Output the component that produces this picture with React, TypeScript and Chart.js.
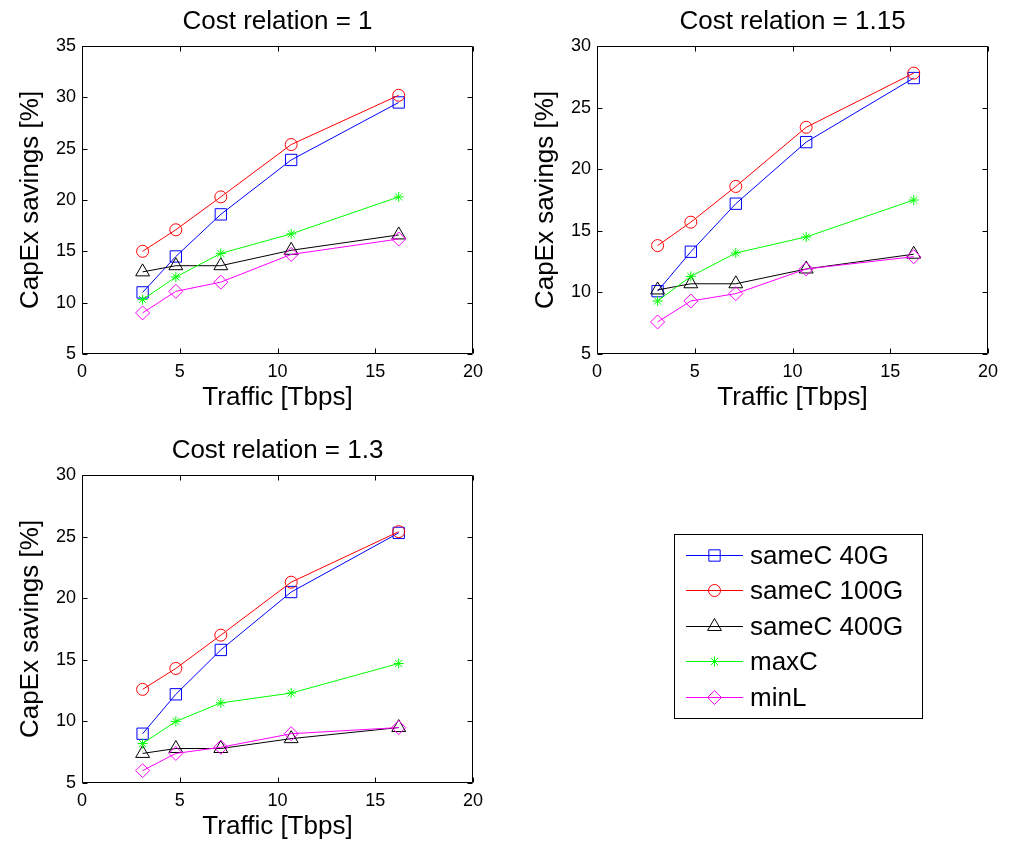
import React, { useEffect, useRef } from "react";
import { Chart, registerables } from "chart.js";
import { drawPoint } from "chart.js/helpers";

Chart.register(...registerables);

// ---------- data ----------
const trafficTbps = [3.1, 4.8, 7.1, 10.7, 16.2];
const seriesLabels = ["sameC 40G", "sameC 100G", "sameC 400G", "maxC", "minL"];
const panelTitles = ["Cost relation = 1", "Cost relation = 1.15", "Cost relation = 1.3"];
const xTickStep = 5;
const yTickStep = 5;

// Cost relation = 1
const sameC40G_1 = [11.0, 14.5, 18.6, 23.9, 29.5];
const sameC100G_1 = [15.0, 17.1, 20.3, 25.4, 30.2];
const sameC400G_1 = [13.0, 13.6, 13.6, 15.1, 16.6];
const maxC_1 = [10.3, 12.5, 14.8, 16.7, 20.3];
const minL_1 = [9.0, 11.1, 12.0, 14.7, 16.2];

// Cost relation = 1.15
const sameC40G_2 = [10.1, 13.3, 17.2, 22.2, 27.4];
const sameC100G_2 = [13.8, 15.7, 18.6, 23.4, 27.8];
const sameC400G_2 = [10.2, 10.7, 10.7, 11.9, 13.1];
const maxC_2 = [9.3, 11.3, 13.2, 14.5, 17.5];
const minL_2 = [7.6, 9.3, 9.9, 11.9, 12.9];

// Cost relation = 1.3
const sameC40G_3 = [9.0, 12.2, 15.8, 20.5, 25.3];
const sameC100G_3 = [12.6, 14.3, 17.0, 21.3, 25.4];
const sameC400G_3 = [7.4, 7.8, 7.8, 8.6, 9.5];
const maxC_3 = [8.2, 10.0, 11.5, 12.3, 14.7];
const minL_3 = [6.0, 7.4, 7.9, 9.0, 9.5];

const panelSeries = [
  [sameC40G_1, sameC100G_1, sameC400G_1, maxC_1, minL_1],
  [sameC40G_2, sameC100G_2, sameC400G_2, maxC_2, minL_2],
  [sameC40G_3, sameC100G_3, sameC400G_3, maxC_3, minL_3],
];
const panelXRange = [0, 20];
const panelYRanges = [
  [5, 35],
  [5, 30],
  [5, 30],
];

// ---------- styles ----------
const FONT = '"Liberation Sans", Arial, Helvetica, sans-serif';
const seriesColors = ["#0000FF", "#FF0000", "#000000", "#00FF00", "#FF00FF"];
const seriesMarkers = ["rect", "circle", "triangle", "star", "rectRot"];
const seriesMarkerRadius = [8, 6, 8, 5, 7];

const CW = 500;
const CH = 420;
const panelPos = [
  { left: 0, top: 0 },
  { left: 515, top: 0 },
  { left: 0, top: 429 },
];

const framePlugin = {
  id: "matlabFrame",
  afterDraw(chart: any) {
    const { ctx, chartArea: a, scales } = chart;
    const L = Math.round(a.left) + 0.5;
    const R = Math.round(a.right) - 0.5;
    const T = Math.round(a.top) + 0.5;
    const B = Math.round(a.bottom) - 0.5;
    const tl = 5;
    ctx.save();
    ctx.strokeStyle = "#000";
    ctx.lineWidth = 1;
    ctx.beginPath();
    ctx.rect(L, T, R - L, B - T);
    const xs = scales.x;
    xs.ticks.forEach((_t: any, i: number) => {
      const px = Math.round(xs.getPixelForTick(i)) + 0.5;
      ctx.moveTo(px, B);
      ctx.lineTo(px, B - tl);
      ctx.moveTo(px, T);
      ctx.lineTo(px, T + tl);
    });
    const ys = scales.y;
    ys.ticks.forEach((_t: any, i: number) => {
      const py = Math.round(ys.getPixelForTick(i)) + 0.5;
      ctx.moveTo(L, py);
      ctx.lineTo(L + tl, py);
      ctx.moveTo(R, py);
      ctx.lineTo(R - tl, py);
    });
    ctx.stroke();
    ctx.restore();
  },
};

function makeDatasets(values: number[][]) {
  return values.map((vals, i) => ({
    label: seriesLabels[i],
    data: vals.map((v, j) => ({ x: trafficTbps[j], y: v })),
    borderColor: seriesColors[i],
    backgroundColor: seriesColors[i],
    borderWidth: 1,
    pointStyle: seriesMarkers[i],
    pointRadius: seriesMarkerRadius[i],
    pointBorderColor: seriesColors[i],
    pointBackgroundColor: "rgba(0,0,0,0)",
    pointBorderWidth: 1,
    tension: 0,
    fill: false,
    order: values.length - i,
  }));
}

function Panel({ idx }: { idx: number }) {
  const ref = useRef<HTMLCanvasElement | null>(null);
  useEffect(() => {
    if (!ref.current) return;
    const font = (size: number) => ({ family: FONT, size, weight: "normal" as const });
    const chart = new Chart(ref.current, {
      type: "line",
      data: { datasets: makeDatasets(panelSeries[idx]) as any },
      plugins: [framePlugin],
      options: {
        animation: false,
        responsive: false,
        devicePixelRatio: 1,
        layout: { padding: { left: 0, right: 27, top: 0, bottom: 0 } },
        plugins: {
          legend: { display: false },
          tooltip: { enabled: false },
          title: { display: false },
        },
        scales: {
          x: {
            type: "linear",
            min: panelXRange[0],
            max: panelXRange[1],
            afterFit: (s: any) => {
              s.height = 66;
            },
            ticks: { stepSize: xTickStep, color: "#000", font: font(18), padding: 7 },
            grid: { display: false, drawTicks: false },
            border: { display: false },
            title: {
              display: true,
              text: "Traffic [Tbps]",
              color: "#000",
              font: font(26),
              padding: { top: 0, bottom: 6.5 },
            },
          },
          xTop: {
            type: "linear",
            position: "top",
            min: panelXRange[0],
            max: panelXRange[1],
            afterFit: (s: any) => {
              s.height = 46;
            },
            ticks: { display: false },
            grid: { display: false, drawTicks: false },
            border: { display: false },
            title: {
              display: true,
              text: panelTitles[idx],
              color: "#000",
              font: font(26),
              padding: { top: 6.5, bottom: 0 },
            },
          },
          y: {
            type: "linear",
            min: panelYRanges[idx][0],
            max: panelYRanges[idx][1],
            afterFit: (s: any) => {
              s.width = 82;
            },
            ticks: { stepSize: yTickStep, color: "#000", font: font(18), padding: 6 },
            grid: { display: false, drawTicks: false },
            border: { display: false },
            title: {
              display: true,
              text: "CapEx savings [%]",
              color: "#000",
              font: font(26),
              padding: { top: 15.5, bottom: 0 },
            },
          },
        },
      } as any,
    });
    return () => chart.destroy();
  }, [idx]);
  const p = panelPos[idx];
  return (
    <canvas
      ref={ref}
      width={CW}
      height={CH}
      style={{ position: "absolute", left: p.left, top: p.top, width: CW, height: CH, display: "block" }}
    />
  );
}

const LEG = { left: 660, top: 520, width: 280, height: 215 };

const legendPlugin = {
  id: "matlabLegend",
  afterDraw(chart: any) {
    const { ctx } = chart;
    const box = { x: 14.5, y: 14.5, w: 248, h: 184 };
    ctx.save();
    ctx.fillStyle = "#fff";
    ctx.fillRect(box.x, box.y, box.w, box.h);
    ctx.strokeStyle = "#000";
    ctx.lineWidth = 1;
    ctx.strokeRect(box.x, box.y, box.w, box.h);
    const rowY0 = 34.5;
    const rowStep = 35.5;
    chart.data.datasets.forEach((ds: any, i: number) => {
      const y = Math.round(rowY0 + i * rowStep) + 0.5;
      ctx.strokeStyle = ds.borderColor;
      ctx.lineWidth = 1;
      ctx.beginPath();
      ctx.moveTo(26, y);
      ctx.lineTo(83, y);
      ctx.stroke();
      ctx.fillStyle = "rgba(0,0,0,0)";
      ctx.strokeStyle = ds.pointBorderColor;
      drawPoint(ctx, { pointStyle: ds.pointStyle, radius: ds.pointRadius, rotation: 0, borderWidth: 1 } as any, 54.5, y);
      ctx.fillStyle = "#000";
      ctx.font = `26px ${FONT}`;
      ctx.textBaseline = "middle";
      ctx.textAlign = "left";
      ctx.fillText(ds.label, 90, y + 1);
    });
    ctx.restore();
  },
};

function LegendBox() {
  const ref = useRef<HTMLCanvasElement | null>(null);
  useEffect(() => {
    if (!ref.current) return;
    const chart = new Chart(ref.current, {
      type: "line",
      data: { datasets: makeDatasets(panelSeries[0]).map((d) => ({ ...d, data: [] })) as any },
      plugins: [legendPlugin],
      options: {
        animation: false,
        responsive: false,
        devicePixelRatio: 1,
        plugins: { legend: { display: false }, tooltip: { enabled: false }, title: { display: false } },
        scales: { x: { display: false }, y: { display: false } },
      } as any,
    });
    return () => chart.destroy();
  }, []);
  return (
    <canvas
      ref={ref}
      width={LEG.width}
      height={LEG.height}
      style={{ position: "absolute", left: LEG.left, top: LEG.top, width: LEG.width, height: LEG.height, display: "block" }}
    />
  );
}

export default function App() {
  return (
    <div
      style={{
        position: "absolute",
        left: 0,
        top: 0,
        width: 1009,
        height: 841,
        overflow: "hidden",
        background: "#fff",
      }}
    >
      <Panel idx={0} />
      <Panel idx={1} />
      <Panel idx={2} />
      <LegendBox />
    </div>
  );
}
